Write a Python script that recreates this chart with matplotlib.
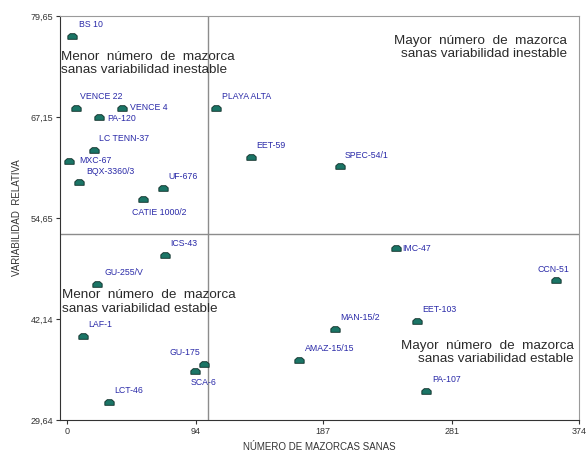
import matplotlib
matplotlib.use('Agg')
import matplotlib.pyplot as plt
from matplotlib.path import Path

plt.rcParams['font.family'] = ['Liberation Sans', 'DejaVu Sans']

# clones: number of healthy pods vs relative variability
clones = ['BS 10', 'VENCE 22', 'VENCE 4', 'PA-120', 'PLAYA ALTA', 'LC TENN-37',
          'MXC-67', 'EET-59', 'SPEC-54/1', 'BQX-3360/3', 'UF-676', 'CATIE 1000/2',
          'ICS-43', 'GU-255/V', 'LAF-1', 'GU-175', 'SCA-6', 'LCT-46',
          'AMAZ-15/15', 'IMC-47', 'CCN-51', 'MAN-15/2', 'EET-103', 'PA-107']
mazorcas = [3.9, 6.3, 40.2, 23.4, 108.9, 19.5,
            1.7, 134.3, 199.1, 9.0, 70.0, 55.3,
            71.6, 22.2, 11.7, 100.4, 93.6, 30.5,
            169.8, 240.5, 357.2, 195.9, 255.8, 262.6]
variabilidad = [77.17, 68.3, 68.3, 67.1, 68.3, 63.1,
                61.74, 62.16, 61.09, 59.15, 58.33, 56.96,
                50.07, 46.48, 40.09, 36.58, 35.71, 31.88,
                37.08, 50.9, 46.98, 40.87, 41.9, 33.24]
x_ticks = [0, 94, 187, 281, 374]
y_ticks = [29.64, 42.14, 54.65, 67.15, 79.65]
y_tick_labels = ['29,64', '42,14', '54,65', '67,15', '79,65']
x_ref = 103.3
y_ref = 52.67

# label offsets in points (dx, dy, ha, va)
offsets = {
    'BS 10': (5, 5, 'left', 'bottom'),
    'VENCE 22': (3, 5, 'left', 'bottom'),
    'VENCE 4': (6, 0, 'left', 'center'),
    'PA-120': (6, -1, 'left', 'center'),
    'PLAYA ALTA': (4, 5, 'left', 'bottom'),
    'LC TENN-37': (4, 5, 'left', 'bottom'),
    'MXC-67': (7, 0, 'left', 'center'),
    'EET-59': (4, 5, 'left', 'bottom'),
    'SPEC-54/1': (4, 4, 'left', 'bottom'),
    'BQX-3360/3': (5, 4, 'left', 'bottom'),
    'UF-676': (4, 5, 'left', 'bottom'),
    'CATIE 1000/2': (-8, -6, 'left', 'top'),
    'ICS-43': (4, 5, 'left', 'bottom'),
    'GU-255/V': (5, 5, 'left', 'bottom'),
    'LAF-1': (4, 5, 'left', 'bottom'),
    'GU-175': (-3, 5, 'right', 'bottom'),
    'SCA-6': (-3, -5, 'left', 'top'),
    'LCT-46': (4, 5, 'left', 'bottom'),
    'AMAZ-15/15': (4, 5, 'left', 'bottom'),
    'IMC-47': (4, 0, 'left', 'center'),
    'CCN-51': (-2, 4, 'center', 'bottom'),
    'MAN-15/2': (4, 5, 'left', 'bottom'),
    'EET-103': (4, 5, 'left', 'bottom'),
    'PA-107': (4, 5, 'left', 'bottom'),
}

dome = Path([(-1, -0.6), (1, -0.6), (1, 0.15), (0.5, 0.6), (-0.5, 0.6), (-1, 0.15), (-1, -0.6)],
            [Path.MOVETO] + [Path.LINETO] * 5 + [Path.CLOSEPOLY])

fig = plt.figure(figsize=(5.88, 4.51), dpi=100)
ax = fig.add_axes([60/588, 1 - 420/451, (579 - 60)/588, (420 - 16)/451])

ax.axvline(x_ref, color='#8c8c8c', lw=1, zorder=1)
ax.axhline(y_ref, color='#8c8c8c', lw=1, zorder=1)

ax.scatter(mazorcas, variabilidad, marker=dome, s=45, c='#1b7566',
           edgecolors='#0a2a24', linewidths=0.6, zorder=3)

for name, x, y in zip(clones, mazorcas, variabilidad):
    dx, dy, ha, va = offsets[name]
    ax.annotate(name, (x, y), xytext=(dx, dy), textcoords='offset points',
                ha=ha, va=va, fontsize=6.3, color='#2a2aa8')

quad_kw = dict(fontsize=9.7, color='#2a2a2a', linespacing=1.12, va='top')
ax.text(-4.2, 75.3, 'Menor  número  de  mazorca\nsanas variabilidad inestable', ha='left', **quad_kw)
ax.text(365, 77.3, 'Mayor  número  de  mazorca\nsanas variabilidad inestable', ha='right', **quad_kw)
ax.text(-3.5, 45.8, 'Menor  número  de  mazorca\nsanas variabilidad estable', ha='left', **quad_kw)
ax.text(370, 39.6, 'Mayor  número  de  mazorca\nsanas variabilidad estable', ha='right', **quad_kw)

ax.set_xlim(-5.1, 374)
ax.set_ylim(29.64, 79.65)
ax.set_xticks(x_ticks)
ax.set_yticks(y_ticks)
ax.set_yticklabels(y_tick_labels)
ax.tick_params(labelsize=6.5, length=3, width=0.8, colors='#333333', pad=2)

for side in ['top', 'right']:
    ax.spines[side].set_color('#9a9a9a')
for side in ['left', 'bottom']:
    ax.spines[side].set_color('#333333')

ax.set_xlabel('NÚMERO DE MAZORCAS SANAS', fontsize=7, color='#333333', labelpad=4)
ax.set_ylabel('VARIABILIDAD  RELATIVA', fontsize=7, color='#333333', labelpad=6)

fig.savefig('out.png', dpi=100)
